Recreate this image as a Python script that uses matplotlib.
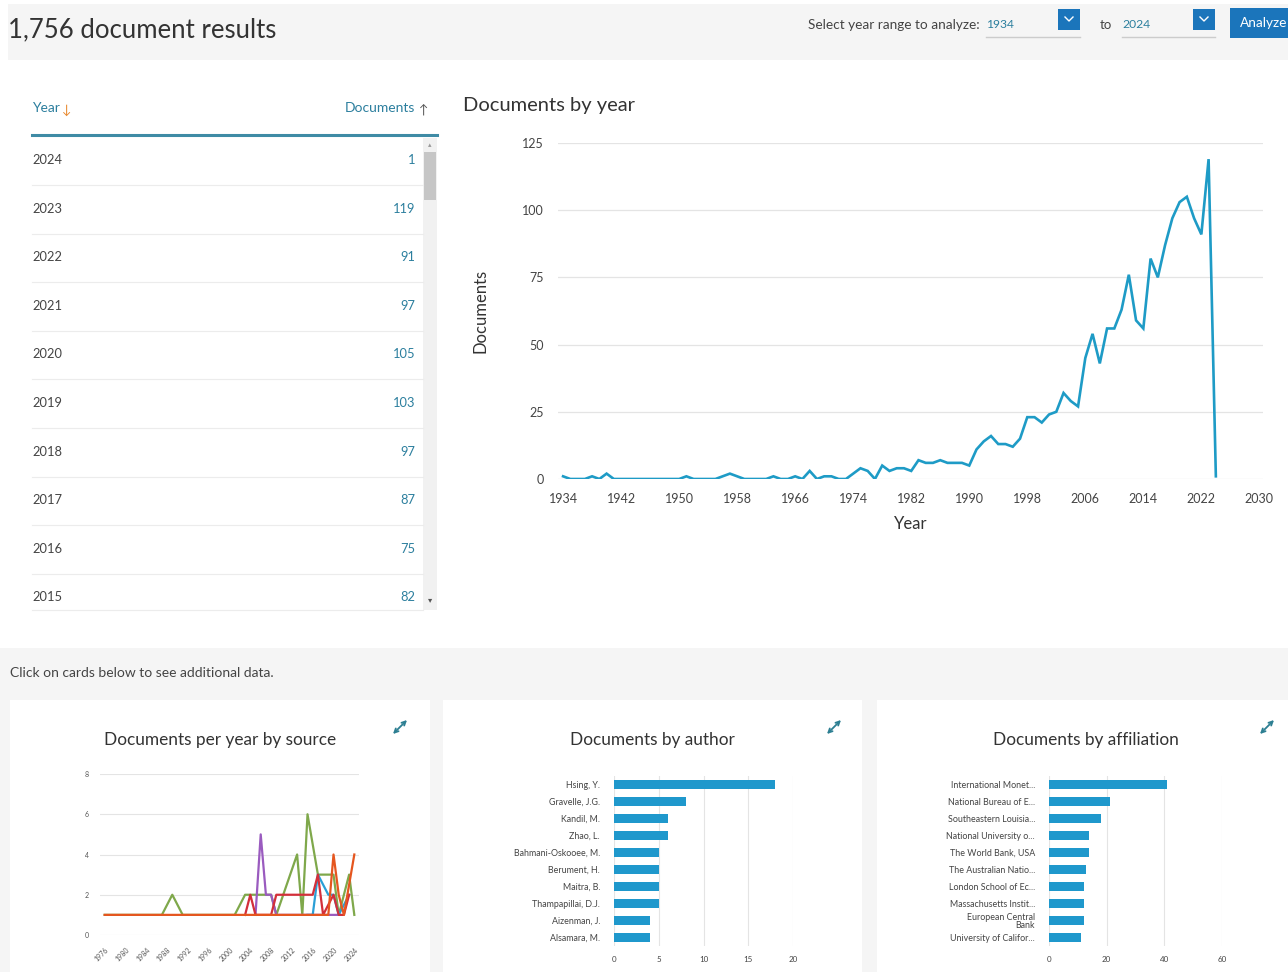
import matplotlib.pyplot as plt
from matplotlib.patches import Rectangle

# documents per year, 1934-2024
years = list(range(1934, 2025))
docs = [1, 0, 0, 0, 1, 0, 2, 0, 0, 0,          # 1934-1943
        0, 0, 0, 0, 0, 0, 0, 1, 0, 0,          # 1944-1953
        0, 0, 1, 2, 1, 0, 0, 0, 0, 1,          # 1954-1963
        0, 0, 1, 0, 3, 0, 1, 1, 0, 0,          # 1964-1973
        2, 4, 3, 0, 5, 3, 4, 4, 3, 7,          # 1974-1983
        6, 6, 7, 6, 6, 6, 5, 11, 14, 16,       # 1984-1993
        13, 13, 12, 15, 23, 23, 21, 24, 25, 32,  # 1994-2003
        29, 27, 45, 54, 43, 56, 56, 63, 76, 59,  # 2004-2013
        56, 82, 75, 87, 97, 103, 105, 97, 91, 119,  # 2014-2023
        1]                                     # 2024
year_ticks = list(range(1934, 2031, 8))
doc_ticks = [0, 25, 50, 75, 100, 125]

# documents per year by source (top sources)
src_orange_years = [1976, 2019, 2020, 2021, 2022, 2024]
src_orange_docs = [1, 1, 4, 2, 1, 4]
src_green_years = [1976, 1987, 1989, 1991, 2001, 2003, 2004, 2008, 2009, 2013,
                   2014, 2015, 2017, 2020, 2021, 2023, 2024]
src_green_docs = [1, 1, 2, 1, 1, 2, 2, 2, 1, 4, 1, 6, 3, 3, 1, 3, 1]
src_purple_years = [2005, 2006, 2007, 2008, 2009, 2018, 2021]
src_purple_docs = [1, 5, 2, 2, 1, 1, 1]
src_red_years = [2003, 2004, 2005, 2008, 2009, 2015, 2016, 2017, 2018, 2020,
                 2021, 2022, 2023]
src_red_docs = [1, 2, 1, 1, 2, 2, 2, 3, 1, 2, 1, 1, 2]
src_blue_years = [2015, 2016, 2017, 2019, 2020, 2021, 2023]
src_blue_docs = [1, 1, 3, 2, 2, 1, 2]
src_year_ticks = list(range(1976, 2025, 4))

# documents by author
authors = ['Hsing, Y.', 'Gravelle, J.G.', 'Kandil, M.', 'Zhao, L.',
           'Bahmani-Oskooee, M.', 'Berument, H.', 'Maitra, B.',
           'Thampapillai, D.J.', 'Aizenman, J.', 'Alsamara, M.']
author_docs = [18, 8, 6, 6, 5, 5, 5, 5, 4, 4]

# documents by affiliation
affils = ['International Monet...', 'National Bureau of E...',
          'Southeastern Louisia...', 'National University o...',
          'The World Bank, USA', 'The Australian Natio...',
          'London School of Ec...', 'Massachusetts Instit...',
          'European Central\nBank', 'University of Califor...']
affil_docs = [41, 21, 18, 14, 14, 13, 12, 12, 12, 11]

W, H = 1288, 972
LINE = '#1e9bc6'
BAR = '#1f98cc'
BTN = '#1b75bb'
TEAL = '#2c7f9e'
GRID = '#e4e4e4'

plt.rcParams['font.family'] = ['Lato', 'DejaVu Sans']

fig = plt.figure(figsize=(W / 100, H / 100), dpi=100)
fig.patch.set_facecolor('white')


def box(l, t, r, b):
    return [l / W, 1 - b / H, (r - l) / W, (b - t) / H]


bg = fig.add_axes([0, 0, 1, 1], zorder=-5)
bg.set_xlim(0, W)
bg.set_ylim(H, 0)
bg.axis('off')

# header band
bg.add_patch(Rectangle((8, 4), W - 8, 56, color='#f5f5f5', lw=0))
bg.text(8, 30, '1,756 document results', fontsize=18.5, color='#333333', va='center')
bg.text(808, 25, 'Select year range to analyze:', fontsize=9.8, color='#444444', va='center')
for x0, x1, lab in [(986, 1080, '1934'), (1122, 1215, '2024')]:
    bg.text(x0, 25, lab, fontsize=8.7, color=TEAL, va='center')
    bg.plot([x0, x1], [37, 37], color='#cccccc', lw=1)
    bg.add_patch(Rectangle((x1 - 22, 9), 22, 21, color=BTN, lw=0))
    bg.plot([x1 - 15, x1 - 11, x1 - 7], [17, 21, 17], color='white', lw=1)
bg.text(1100, 25, 'to', fontsize=9.5, color='#444444', va='center')
bg.add_patch(Rectangle((1230, 8), 60, 30, color=BTN, lw=0))
bg.text(1240, 23, 'Analyze', fontsize=9.8, color='white', va='center')

# year table
bg.text(32, 108, 'Year', fontsize=10, color=TEAL, va='center')
bg.text(62, 110, '↓', fontsize=9, color='#e8862a', va='center')
bg.text(415, 108, 'Documents', fontsize=10, color=TEAL, va='center', ha='right')
bg.text(419, 110, '↑', fontsize=9, color='#555555', va='center')
bg.plot([32, 437], [135, 135], color='#3f8ba5', lw=2.2)
bg.add_patch(Rectangle((423, 138), 14, 472, color='#f1f1f1', lw=0))
bg.add_patch(Rectangle((424, 152), 12, 48, color='#c6c6c6', lw=0))
bg.text(430, 145, '▴', fontsize=5, color='#999999', ha='center', va='center')
bg.text(430, 600, '▾', fontsize=6, color='#555555', ha='center', va='center')
row_h = 48.6
for i in range(10):
    yc = 160 + i * row_h
    bg.text(32, yc, str(years[-1 - i]), fontsize=9.3, color='#444444', va='center')
    bg.text(415, yc, str(docs[-1 - i]), fontsize=9.3, color=TEAL, va='center', ha='right')
    sep = yc + 25 if i < 9 else 610
    bg.plot([32, 423], [sep, sep], color='#ececec', lw=0.8)

# lower band with cards
bg.add_patch(Rectangle((0, 648), W, H - 648, color='#f5f5f5', lw=0))
bg.text(10, 673, 'Click on cards below to see additional data.', fontsize=10,
        color='#444444', va='center')
cards = [(10, 430, 'Documents per year by source'),
         (443, 862, 'Documents by author'),
         (877, 1295, 'Documents by affiliation')]
for l, r, title in cards:
    bg.add_patch(Rectangle((l, 700), r - l, H - 700, color='white', lw=0))
    bg.text((l + r) / 2, 740, title, fontsize=12.4, color='#333333', ha='center', va='center')
for xi in [400, 834, 1267]:
    bg.annotate('', xy=(xi + 7, 720), xytext=(xi - 7, 734),
                arrowprops=dict(arrowstyle='<->', color='#2d7f92', lw=1.3,
                                shrinkA=0, shrinkB=0, mutation_scale=7))

# main chart
ax = fig.add_axes(box(558, 143, 1263, 479))
ax.plot(years, docs, color=LINE, lw=1.9, solid_joinstyle='miter')
ax.set_xlim(1933.3, 2030.5)
ax.set_ylim(0, 125)
ax.set_xticks(year_ticks)
ax.set_yticks(doc_ticks)
ax.grid(axis='y', color=GRID, lw=0.9)
ax.set_axisbelow(True)
for s in ax.spines.values():
    s.set_visible(False)
ax.tick_params(length=0, labelsize=9, colors='#444444', pad=10)
ax.set_xlabel('Year', fontsize=12, color='#333333')
ax.set_ylabel('Documents', fontsize=12, color='#333333')
ax.xaxis.set_label_coords(0.5, -0.11)
ax.yaxis.set_label_coords(-0.098, 0.5)
bg.text(463, 106, 'Documents by year', fontsize=14.5, color='#333333', va='center')

# documents per year by source
ax1 = fig.add_axes(box(100, 774, 359, 935))
ax1.plot(src_green_years, src_green_docs, color='#7fa84b', lw=1.6)
ax1.plot(src_purple_years, src_purple_docs, color='#9a5bbf', lw=1.6)
ax1.plot(src_blue_years, src_blue_docs, color='#2a9fd6', lw=1.6)
ax1.plot(src_red_years, src_red_docs, color='#d32f3a', lw=1.6)
ax1.plot(src_orange_years, src_orange_docs, color='#e5561f', lw=1.6)
ax1.set_xlim(1975.1, 2024.9)
ax1.set_ylim(0, 8)
ax1.set_yticks([0, 2, 4, 6, 8])
ax1.set_xticks(src_year_ticks)
ax1.grid(axis='y', color=GRID, lw=0.8)
ax1.set_axisbelow(True)
for s in ax1.spines.values():
    s.set_visible(False)
ax1.tick_params(length=0, labelsize=5, colors='#555555', pad=8)
for t in ax1.get_xticklabels():
    t.set_rotation(45)
    t.set_ha('right')
    t.set_rotation_mode('anchor')

# documents by author / affiliation
for (l, r, labels, vals, xmax, ticks) in [
        (614, 793, authors, author_docs, 20, [0, 5, 10, 15, 20]),
        (1049, 1222, affils, affil_docs, 60, [0, 20, 40, 60])]:
    axb = fig.add_axes(box(l, 776, r, 946))
    pos = list(range(len(labels)))
    axb.barh(pos, vals, height=0.56, color=BAR)
    axb.set_yticks(pos)
    axb.set_yticklabels(labels)
    axb.set_ylim(9.5, -0.5)
    axb.set_xlim(0, xmax)
    axb.set_xticks(ticks)
    axb.grid(axis='x', color=GRID, lw=0.8)
    axb.set_axisbelow(True)
    for s in axb.spines.values():
        s.set_visible(False)
    axb.tick_params(length=0, labelsize=6.4, colors='#444444', pad=10)
    axb.tick_params(axis='x', labelsize=5.8, pad=7)
    for t in axb.get_yticklabels():
        t.set_linespacing(0.95)

fig.savefig('out.png', dpi=100)
